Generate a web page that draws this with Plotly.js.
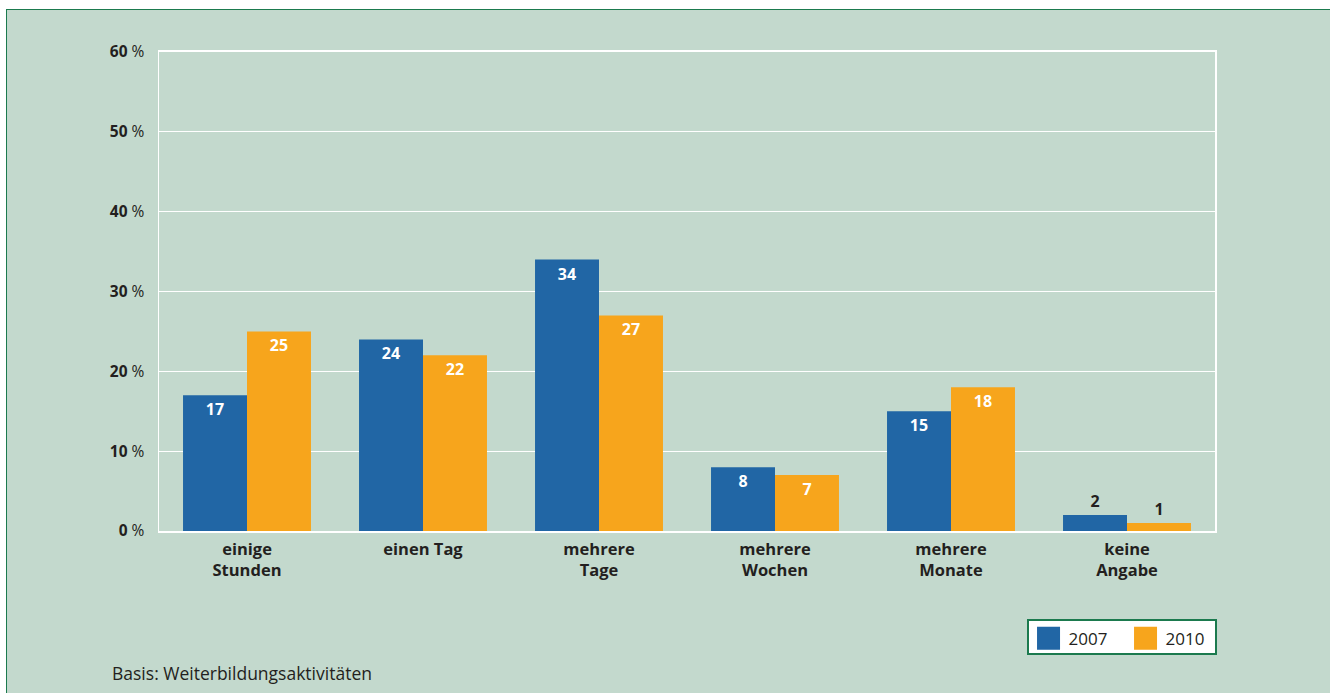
<!DOCTYPE html>
<html>
<head>
<meta charset="utf-8">
<script src="https://cdn.plot.ly/plotly-3.0.1.min.js"></script>
<style>
  html, body { margin: 0; padding: 0; background: #ffffff; width: 1330px; height: 693px; overflow: hidden; }
  #panel { position: absolute; left: 6px; top: 9px; width: 1340px; height: 700px;
           background: #c3d9cd; border: 1.5px solid #1b7a4e; box-sizing: border-box; }
  #chart { position: absolute; left: 0; top: 0; width: 1330px; height: 693px; }
</style>
</head>
<body>
<div id="panel"></div>
<div id="chart"></div>
<script>
const categories = ["einige<br>Stunden", "einen Tag", "mehrere<br>Tage", "mehrere<br>Wochen", "mehrere<br>Monate", "keine<br>Angabe"];
const values2007 = [17, 24, 34, 8, 15, 2];
const values2010 = [25, 22, 27, 7, 18, 1];
const seriesNames = ["2007", "2010"];
const yTickVals = [0, 10, 20, 30, 40, 50, 60];
const yTickText = ["<b>0</b> %", "<b>10</b> %", "<b>20</b> %", "<b>30</b> %", "<b>40</b> %", "<b>50</b> %", "<b>60</b> %"];
const sourceNote = "Basis: Weiterbildungsaktivitäten";

const FONT = "'Open Sans', 'Noto Sans', sans-serif";
const TXT = "#231f20";

function posFor(vals) { return vals.map(v => v >= 5 ? "inside" : "outside"); }

const traces = [
  { type: "bar", name: seriesNames[0], x: categories, y: values2007,
    marker: { color: "#2166a5" },
    text: values2007.map(String), textposition: posFor(values2007),
    insidetextanchor: "end",
    insidetextfont: { family: FONT, size: 16, color: "#ffffff", weight: 700 },
    outsidetextfont: { family: FONT, size: 16, color: TXT, weight: 700 },
    cliponaxis: false, hoverinfo: "skip" },
  { type: "bar", name: seriesNames[1], x: categories, y: values2010,
    marker: { color: "#f7a51c" },
    text: values2010.map(String), textposition: posFor(values2010),
    insidetextanchor: "end",
    insidetextfont: { family: FONT, size: 16, color: "#ffffff", weight: 700 },
    outsidetextfont: { family: FONT, size: 16, color: TXT, weight: 700 },
    cliponaxis: false, hoverinfo: "skip" }
];

const layout = {
  width: 1330, height: 693,
  margin: { l: 159, r: 115, t: 52, b: 162 },
  paper_bgcolor: "rgba(0,0,0,0)",
  plot_bgcolor: "rgba(0,0,0,0)",
  font: { family: FONT, color: TXT },
  barmode: "group",
  bargap: 0.273,
  bargroupgap: 0,
  showlegend: true,
  legend: {
    orientation: "h", xanchor: "left", yanchor: "top", x: 0.8220, y: -0.184,
    bgcolor: "#ffffff", bordercolor: "#1b7a4e", borderwidth: 1.5,
    font: { family: FONT, size: 17, color: TXT },
    traceorder: "normal", entrywidth: 52
  },
  xaxis: {
    type: "category", range: [-0.5, 5.5],
    showgrid: false, zeroline: false,
    showline: true, linecolor: "#ffffff", linewidth: 2, mirror: true,
    ticks: "", ticklen: 0, ticklabelstandoff: 2,
    tickfont: { family: FONT, size: 16.5, color: TXT, weight: 700 },
    fixedrange: true
  },
  yaxis: {
    range: [0, 60], tickvals: yTickVals, ticktext: yTickText,
    showgrid: true, gridcolor: "#ffffff", gridwidth: 1.3,
    zeroline: false,
    showline: true, linecolor: "#ffffff", linewidth: 1.5, mirror: true,
    ticks: "", ticklabelstandoff: 10,
    tickfont: { family: FONT, size: 15.5, color: TXT },
    fixedrange: true
  },
  annotations: [
    { text: sourceNote, xref: "paper", yref: "paper", x: -0.046, y: -0.297,
      xanchor: "left", yanchor: "middle", showarrow: false,
      font: { family: FONT, size: 17.5, color: TXT } }
  ]
};

function tidyLegend() {
  document.querySelectorAll("#chart .legendpoints path").forEach(p => {
    p.setAttribute("d", "M11.5,11.5H-11.5V-11.5H11.5Z");
  });
  const bg = document.querySelector("#chart g.legend rect.bg");
  if (bg) {
    bg.setAttribute("width", "188");
    bg.setAttribute("height", "34");
  }
}

Plotly.newPlot("chart", traces, layout, { displayModeBar: false, staticPlot: true })
  .then(tidyLegend);
</script>
</body>
</html>
